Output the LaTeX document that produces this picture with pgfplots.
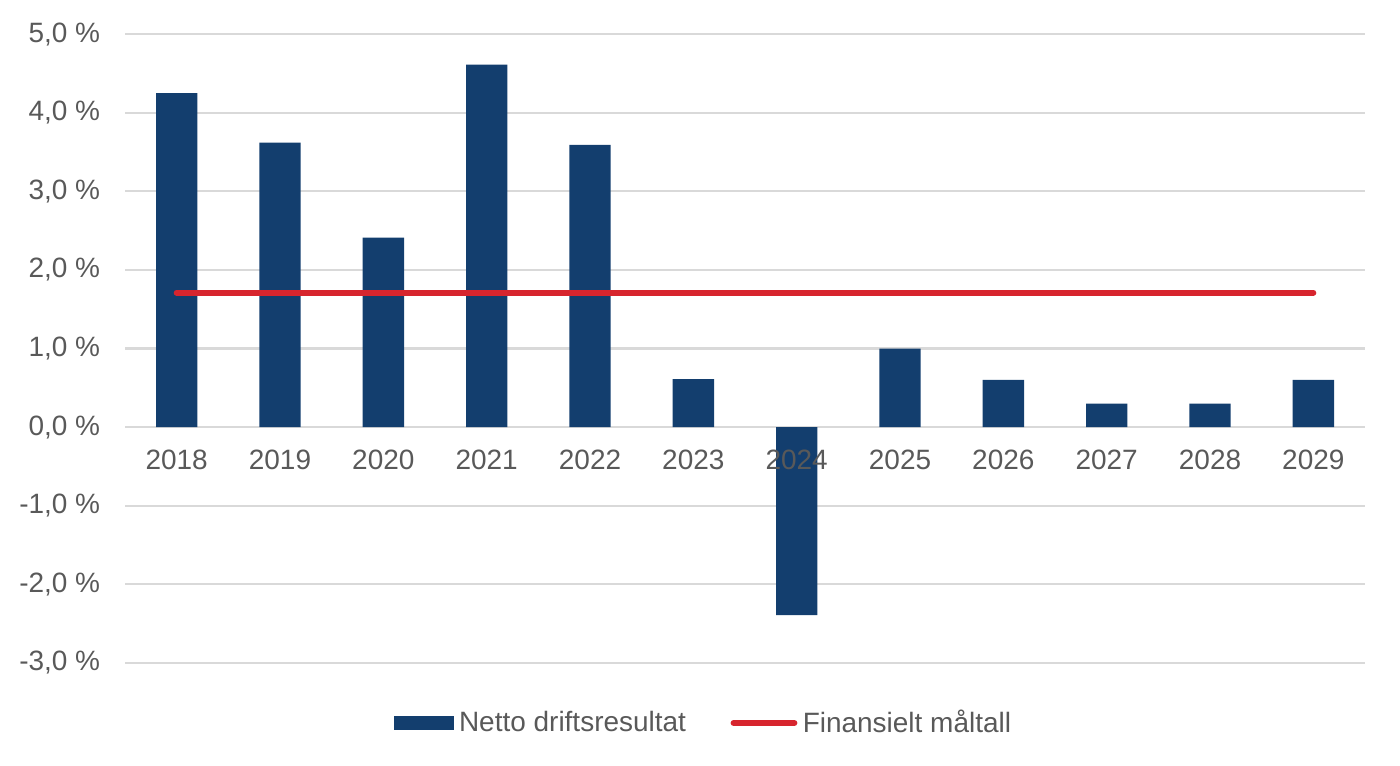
\documentclass[border=0pt]{standalone}
\usepackage{pgfplots}
\pgfplotsset{compat=1.18}
\usepackage{fontspec}
\setmainfont{Liberation Sans}
\definecolor{barblue}{HTML}{133E6E}
\definecolor{tgtred}{HTML}{D7252E}
\definecolor{txtgrey}{HTML}{595959}
\definecolor{gridgrey}{HTML}{D9D9D9}
\pgfplotsset{
  common/.style={
    at={(0,0)}, anchor=south west,
    scale only axis,
    width=458.8pt, height=232.7pt,
    xmin=-0.5, xmax=11.5,
    ymin=-3, ymax=5,
    major tick length=0pt,
    /pgf/number format/assume math mode=true,
    ticklabel style={font=\fontsize{10.35}{12}\selectfont, text=txtgrey},
  }
}
\begin{document}
\begin{tikzpicture}
\path[use as bounding box] (-46.25pt,-38.1pt) rectangle (471.75pt,245.3pt);
\begin{axis}[
  common,
  axis x line*=middle,
  axis y line*=left,
  y axis line style={draw=none},
  x axis line style={draw=gridgrey, line width=0.8pt},
  ytick={-3,-2,-1,0,1,2,3,4,5},
  ymajorgrids,
  grid style={draw=gridgrey, line width=0.8pt},
  xtick={0,...,11},
  xticklabels={},
  yticklabel style={inner sep=0pt, anchor=east, xshift=-9pt},
  yticklabel={\pgfmathprintnumber[fixed,fixed zerofill,precision=1,use comma]{\tick} \%},
  legend columns=2,
  legend style={draw=none, fill=none, at={(0.468,-0.0954)}, anchor=center,
    font=\fontsize{10.35}{12}\selectfont, text=txtgrey,
    /tikz/every even column/.append style={column sep=14.5pt}},
]
\addplot[ybar, bar width=0.4, fill=barblue, draw=none,
  legend image code/.code={\fill[barblue] (0pt,-2.6pt) rectangle (22pt,2.6pt);}]
  coordinates {(0,4.25) (1,3.62) (2,2.41) (3,4.61) (4,3.59) (5,0.61) (6,-2.39) (7,1.0) (8,0.6) (9,0.3) (10,0.3) (11,0.6)};
\addlegendentry{Netto driftsresultat}
\addplot[tgtred, line width=2.2pt, line cap=round, mark=none,
  legend image code/.code={\draw[tgtred, line width=2.2pt, line cap=round] (1pt,0pt) -- (23.5pt,0pt);}]
  coordinates {(0,1.71) (11,1.71)};
\addlegendentry{Finansielt måltall}
\end{axis}
\begin{axis}[
  common,
  axis x line*=middle,
  axis y line=none,
  x axis line style={draw=none},
  ytick=\empty,
  xtick={0,...,11},
  xticklabels={2018,2019,2020,2021,2022,2023,2024,2025,2026,2027,2028,2029},
  xticklabel style={inner sep=0pt, anchor=north, yshift=-8.1pt},
]
\end{axis}
\end{tikzpicture}
\end{document}
